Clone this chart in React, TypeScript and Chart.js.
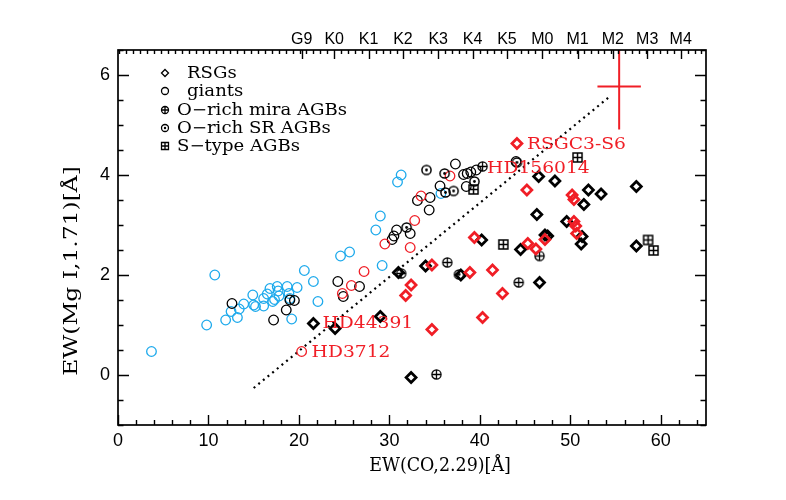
import React, { useEffect, useRef } from "react";
import { Chart, registerables } from "chart.js";
Chart.register(...registerables);

const RED = "rgb(240,30,38)";
const CYAN = "rgb(30,170,236)";
const BLACK = "#000";

// ---- data: [EW(CO,2.29), EW(Mg I,1.71)] ----
const cyanGiants: [number, number][] = [
  [3.7, 0.47], [9.8, 1.0], [10.7, 2.0], [11.9, 1.1], [12.5, 1.27], [13.2, 1.15], [13.4, 1.32],
  [13.9, 1.42], [14.9, 1.6], [15.0, 1.4], [15.2, 1.37], [16.1, 1.38], [16.1, 1.53], [16.5, 1.62],
  [16.8, 1.73], [17.1, 1.47], [17.3, 1.51], [17.6, 1.77], [17.7, 1.68], [17.8, 1.58], [18.7, 1.77],
  [18.9, 1.63], [19.0, 1.53], [19.2, 1.12], [19.8, 1.75], [20.6, 2.09], [21.6, 1.87], [22.1, 1.47],
  [24.6, 2.38], [25.6, 2.46], [28.5, 2.9], [29.0, 3.18], [29.2, 2.19], [30.9, 3.86], [31.3, 4.0],
  [35.7, 3.63],
];
const blackGiants: [number, number][] = [
  [12.6, 1.43], [17.2, 1.1], [18.6, 1.3], [19.0, 1.5], [19.5, 1.49], [24.3, 1.87], [24.9, 1.57],
  [26.7, 1.77], [30.3, 2.71], [30.5, 2.78], [30.8, 2.9], [32.3, 2.83], [33.1, 3.49], [34.4, 3.3],
  [34.5, 3.55], [35.6, 3.78], [37.3, 4.22], [38.2, 4.01], [38.6, 4.03], [39.0, 4.06], [39.6, 4.1],
  [38.5, 3.77], [44.0, 4.27],
];
const redGiants: [number, number][] = [
  [20.3, 0.47], [24.8, 1.63], [25.8, 1.79], [27.2, 2.07], [29.5, 2.62], [32.3, 2.55], [32.8, 3.09],
  [33.5, 3.58], [36.7, 3.98],
];
const srAgbs: [number, number][] = [
  [31.9, 2.95], [34.1, 4.1], [36.1, 4.03], [36.2, 3.65], [37.1, 3.68], [39.4, 3.87], [44.1, 4.25], [37.7, 2.01],
];
const miraAgbs: [number, number][] = [
  [40.3, 4.17], [36.4, 2.25], [46.6, 2.38], [44.3, 1.85], [35.2, 0.01], [31.3, 2.03],
];
const sTypeAgbs: [number, number][] = [
  [39.3, 3.71], [42.6, 2.61], [50.8, 4.35], [58.6, 2.7], [59.2, 2.49],
];
const blackRsgs: [number, number][] = [
  [21.6, 1.03], [24.0, 0.93], [29.0, 1.17], [31.0, 2.05], [32.4, -0.05], [34.0, 2.18], [37.9, 2.0],
  [40.2, 2.7], [44.5, 2.51], [46.3, 3.21], [46.5, 3.97], [46.6, 1.85], [47.2, 2.8], [47.5, 2.78],
  [48.3, 3.88], [49.6, 3.07], [51.2, 2.62], [51.3, 2.77], [51.5, 3.41], [52.0, 3.7], [53.4, 3.62],
  [57.3, 3.77], [57.3, 2.58],
];
const redRsgs: [number, number][] = [
  [31.8, 1.59], [32.4, 1.8], [34.7, 2.2], [34.7, 0.91], [38.9, 2.05], [39.4, 2.75], [40.3, 1.15],
  [41.4, 2.1], [42.5, 1.63], [44.1, 4.63], [45.2, 3.7], [45.3, 2.63], [46.2, 2.52], [47.2, 2.71],
  [50.2, 3.6], [50.4, 3.51], [50.4, 3.07], [50.6, 2.98], [50.7, 2.83],
];
const trendLine: [number, number][] = [[15.0, -0.26], [54.3, 5.56]];
const errorCenter: [number, number] = [55.4, 5.77];
const errorHalf: [number, number] = [2.4, 0.86];

const xTickValues = [0, 10, 20, 30, 40, 50, 60];
const yTickValues = [0, 2, 4, 6];
const spectralLabels = ["G9", "K0", "K1", "K2", "K3", "K4", "K5", "M0", "M1", "M2", "M3", "M4"];
const spectralX = [20.3, 23.9, 27.7, 31.5, 35.4, 39.2, 43.0, 46.9, 50.8, 54.7, 58.5, 62.2];

const annotationText = ["RSGC3-S6", "HD156014", "HD44391", "HD3712"];
const annotationX = [45.2, 40.8, 22.6, 21.4];
const annotationY = [4.63, 4.14, 1.05, 0.46];

const legendLabels = ["RSGs", "giants", "O\u2212rich mira AGBs", "O\u2212rich SR AGBs", "S\u2212type AGBs"];
const legendKinds = ["diamond", "circle", "pluscircle", "dotcircle", "plussquare"];

const SERIF = "'DejaVu Serif', serif";
const SANS = "'Liberation Sans', Arial, sans-serif";

function drawSymbol(g: CanvasRenderingContext2D, kind: string, x: number, y: number, r: number, color: string, lw: number) {
  g.save();
  g.strokeStyle = color;
  g.fillStyle = color;
  g.lineWidth = lw;
  g.beginPath();
  if (kind === "diamond") {
    g.moveTo(x, y - r); g.lineTo(x + r, y); g.lineTo(x, y + r); g.lineTo(x - r, y); g.closePath();
    g.stroke();
  } else if (kind === "circle") {
    g.arc(x, y, r, 0, Math.PI * 2); g.stroke();
  } else if (kind === "pluscircle") {
    g.arc(x, y, r, 0, Math.PI * 2);
    g.moveTo(x - r, y); g.lineTo(x + r, y); g.moveTo(x, y - r); g.lineTo(x, y + r);
    g.stroke();
  } else if (kind === "dotcircle") {
    g.arc(x, y, r, 0, Math.PI * 2); g.stroke();
    g.beginPath(); g.arc(x, y, Math.max(1.2, r * 0.3), 0, Math.PI * 2); g.fill();
  } else if (kind === "plussquare") {
    g.rect(x - r, y - r, 2 * r, 2 * r);
    g.moveTo(x - r, y); g.lineTo(x + r, y); g.moveTo(x, y - r); g.lineTo(x, y + r);
    g.stroke();
  }
  g.restore();
}

function makeImage(kind: string, color: string, r: number, lw: number) {
  const c = document.createElement("canvas");
  const s = Math.ceil(2 * r + lw + 3) | 1;
  c.width = s; c.height = s;
  const g = c.getContext("2d")!;
  drawSymbol(g, kind, s / 2, s / 2, r, color, lw);
  return c;
}

function stretchText(g: CanvasRenderingContext2D, text: string, x: number, y: number, sx: number, align: CanvasTextAlign) {
  g.save();
  g.translate(x, y);
  g.scale(sx, 1);
  g.textAlign = align;
  g.fillText(text, 0, 0);
  g.restore();
}

const toPts = (a: [number, number][]) => a.map(([x, y]) => ({ x, y }));

const framePlugin = {
  id: "frame",
  afterDatasetsDraw(chart: any) {
    const g: CanvasRenderingContext2D = chart.ctx;
    const { left, right, top, bottom } = chart.chartArea;
    const xs = chart.scales.x, ys = chart.scales.y;
    g.save();
    g.strokeStyle = BLACK;
    g.lineWidth = 1.7;
    g.strokeRect(left, top, right - left, bottom - top);
    g.lineWidth = 1.4;
    g.beginPath();
    for (let v = 0; v <= 65.001; v += 2) {
      const px = Math.round(xs.getPixelForValue(v)) + 0.5;
      const len = Math.abs(v % 10) < 1e-6 ? 10 : 5;
      g.moveTo(px, bottom); g.lineTo(px, bottom - len);
    }
    for (let v = -1; v <= 6.5001; v += 0.5) {
      const py = Math.round(ys.getPixelForValue(v)) + 0.5;
      const len = Math.abs(v % 2) < 1e-6 ? 11 : 5.5;
      g.moveTo(left, py); g.lineTo(left + len, py);
      g.moveTo(right, py); g.lineTo(right - len, py);
    }
    // top spectral-type axis ticks
    const step = (spectralX[spectralX.length - 1] - spectralX[1]) / (spectralX.length - 2) / 5;
    for (let v = spectralX[1]; v >= 0; v -= step) {
      const px = Math.round(xs.getPixelForValue(v)) + 0.5;
      g.moveTo(px, top); g.lineTo(px, top + 4);
    }
    for (let v = spectralX[1] + step; v <= 65; v += step) {
      const px = Math.round(xs.getPixelForValue(v)) + 0.5;
      g.moveTo(px, top); g.lineTo(px, top + 4);
    }
    for (const v of spectralX) {
      const px = Math.round(xs.getPixelForValue(v)) + 0.5;
      g.moveTo(px, top); g.lineTo(px, top + 9);
    }
    g.stroke();

    // axis titles
    g.fillStyle = BLACK;
    g.textBaseline = "middle";
    g.font = `18px ${SERIF}`;
    stretchText(g, "EW(CO,2.29)[\u00c5]", 440, 466, 0.97, "center");
    g.save();
    g.translate(72, 271);
    g.rotate(-Math.PI / 2);
    g.font = `18px ${SERIF}`;
    stretchText(g, "EW(Mg I,1.71)[\u00c5]", 0, 0, 1.3, "center");
    g.restore();

    // legend
    const rows = [73, 91, 110, 128, 146];
    g.font = `16px ${SERIF}`;
    legendKinds.forEach((k, i) => {
      drawSymbol(g, k, 165, rows[i], 3.5, BLACK, 1.3);
      g.fillStyle = BLACK;
      stretchText(g, legendLabels[i], i < 2 ? 187 : 177, rows[i] + 1, 1.13, "left");
    });

    // annotations
    g.fillStyle = RED;
    g.font = `17px ${SERIF}`;
    annotationText.forEach((t, i) => {
      stretchText(g, t, xs.getPixelForValue(annotationX[i]), ys.getPixelForValue(annotationY[i]) + 1, 1.1, "left");
    });
    g.restore();
  },
};

export default function App() {
  const ref = useRef<HTMLCanvasElement>(null);
  useEffect(() => {
    const imgPlusCircle = makeImage("pluscircle", BLACK, 4.6, 1.3);
    const imgDotCircle = makeImage("dotcircle", BLACK, 4.6, 1.5);
    const imgPlusSquare = makeImage("plussquare", BLACK, 4.5, 1.5);
    const circle = (data: [number, number][], color: string) => ({
      data: toPts(data), pointStyle: "circle", pointRadius: 4.8, borderColor: color,
      backgroundColor: "rgba(0,0,0,0)", pointBorderWidth: 1.3, showLine: false,
    });
    const diamond = (data: [number, number][], color: string) => ({
      data: toPts(data), pointStyle: "rectRot", pointRadius: 5, borderColor: color,
      backgroundColor: "rgba(0,0,0,0)", pointBorderWidth: 2.7, showLine: false,
    });
    const image = (data: [number, number][], img: HTMLCanvasElement) => ({
      data: toPts(data), pointStyle: img, pointRadius: 5, showLine: false,
    });
    const chart = new Chart(ref.current!, {
      type: "scatter",
      data: {
        datasets: [
          {
            data: [
              { x: errorCenter[0] - errorHalf[0], y: errorCenter[1] },
              { x: errorCenter[0] + errorHalf[0], y: errorCenter[1] },
            ],
            showLine: true, borderColor: RED, borderWidth: 2, pointRadius: 0,
          },
          {
            data: [
              { x: errorCenter[0], y: errorCenter[1] - errorHalf[1] },
              { x: errorCenter[0], y: errorCenter[1] + errorHalf[1] },
            ],
            showLine: true, borderColor: RED, borderWidth: 2, pointRadius: 0,
          },
          diamond(redRsgs, RED),
          diamond(blackRsgs, BLACK),
          image(sTypeAgbs, imgPlusSquare),
          image(miraAgbs, imgPlusCircle),
          image(srAgbs, imgDotCircle),
          circle(redGiants, RED),
          circle(blackGiants, BLACK),
          circle(cyanGiants, CYAN),
          {
            data: toPts(trendLine), showLine: true, borderColor: BLACK, borderWidth: 2.2,
            borderDash: [2, 4], pointRadius: 0,
          },
        ] as any,
      },
      options: {
        animation: false,
        responsive: false,
        devicePixelRatio: 1,
        layout: { padding: { left: 0, right: 80, top: 0, bottom: 0 } },
        plugins: { legend: { display: false }, tooltip: { enabled: false } },
        scales: {
          x: {
            type: "linear", position: "bottom", min: 0, max: 65,
            grid: { display: false, drawTicks: false }, border: { display: false },
            afterBuildTicks: (s: any) => { s.ticks = xTickValues.map((v) => ({ value: v })); },
            ticks: { color: BLACK, padding: 5, font: { family: SANS, size: 18 } },
            afterFit: (s: any) => { s.height = 75; },
          },
          x2: {
            type: "linear", position: "top", min: 0, max: 65,
            grid: { display: false, drawTicks: false }, border: { display: false },
            afterBuildTicks: (s: any) => { s.ticks = spectralX.map((v) => ({ value: v })); },
            ticks: {
              autoSkip: false, maxRotation: 0, color: BLACK, padding: 1,
              font: { family: SANS, size: 16 },
              callback: (_v: any, i: number) => spectralLabels[i],
            },
            afterFit: (s: any) => { s.height = 50; },
          },
          y: {
            type: "linear", position: "left", min: -1, max: 6.5,
            grid: { display: false, drawTicks: false }, border: { display: false },
            afterBuildTicks: (s: any) => { s.ticks = yTickValues.map((v) => ({ value: v })); },
            ticks: { color: BLACK, padding: 8, font: { family: SANS, size: 18 } },
            afterFit: (s: any) => { s.width = 118; },
          },
        },
      } as any,
      plugins: [framePlugin],
    });
    return () => chart.destroy();
  }, []);
  return (
    <div style={{ position: "fixed", left: 0, top: 0, width: 786, height: 500, background: "#fff" }}>
      <canvas ref={ref} width={786} height={500} />
    </div>
  );
}
